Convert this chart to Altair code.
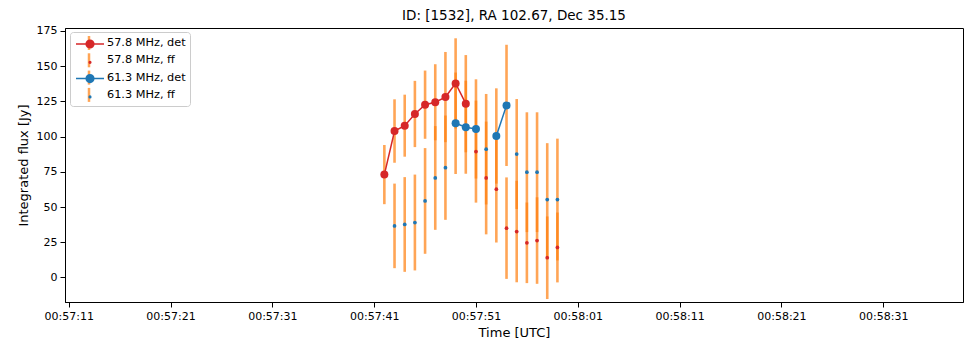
import altair as alt
import pandas as pd

# ---------------- data ----------------
BASE = 57 * 60  # seconds from 00:00:00 to 00:57:00

series_labels = ["57.8 MHz, det", "57.8 MHz, ff", "61.3 MHz, det", "61.3 MHz, ff"]
series_colors = ["#d62728", "#d62728", "#1f77b4", "#1f77b4"]

# seconds after 00:57:00
det578_s = [42, 43, 44, 45, 46, 47, 48, 49, 50]
det578_v = [73.0, 103.9, 107.7, 116.0, 122.6, 124.3, 128.0, 137.7, 123.3]
det578_e = [21.0, 22.5, 22.0, 23.5, 24.2, 27.0, 32.0, 32.0, 34.5]

ff578_s = [51, 52, 53, 54, 55, 56, 57, 58, 59]
ff578_v = [89.3, 70.6, 62.6, 35.0, 32.6, 24.6, 26.2, 14.0, 21.3]
ff578_e = [36.2, 40.0, 37.8, 36.0, 36.0, 28.6, 30.7, 29.3, 24.8]

det613_s = [49, 50, 51, 53, 54]
det613_v = [109.4, 106.6, 105.4, 100.4, 122.1]
det613_e = [36.0, 33.0, 35.2, 33.8, 43.0]
det613_seg = [0, 0, 0, 1, 1]

ff613_s = [43, 44, 45, 46, 47, 48, 52, 55, 56, 57, 58, 59]
ff613_v = [36.6, 37.6, 39.0, 54.3, 70.6, 77.9, 91.0, 87.6, 74.7, 74.7, 55.3, 55.3]
ff613_e = [30.0, 33.6, 34.0, 37.5, 36.8, 37.0, 39.2, 39.0, 42.5, 42.5, 40.0, 43.2]

x_tick_labels = ["00:57:11", "00:57:21", "00:57:31", "00:57:41", "00:57:51",
                 "00:58:01", "00:58:11", "00:58:21", "00:58:31"]
y_ticks = [0, 25, 50, 75, 100, 125, 150, 175]

title_text = "ID: [1532], RA 102.67, Dec 35.15"

# ---------------- table ----------------
def block(s, v, e, label, kind, seg=None):
    seg = seg if seg is not None else [0] * len(s)
    return pd.DataFrame({
        "t": [BASE + a for a in s],
        "v": v,
        "lo": [a - b for a, b in zip(v, e)],
        "hi": [a + b for a, b in zip(v, e)],
        "series": label,
        "kind": kind,
        "seg": seg,
    })

df = pd.concat([
    block(det578_s, det578_v, det578_e, series_labels[0], "det"),
    block(ff578_s, ff578_v, ff578_e, series_labels[1], "ff"),
    block(det613_s, det613_v, det613_e, series_labels[2], "det", det613_seg),
    block(ff613_s, ff613_v, ff613_e, series_labels[3], "ff"),
], ignore_index=True)

def to_sec(lbl):
    h, m, s = (int(p) for p in lbl.split(":"))
    return h * 3600 + m * 60 + s

tick_vals = [to_sec(l) for l in x_tick_labels]

RED, BLUE, ORANGE = "#d62728", "#1f77b4", "#ff7f0e"
FONT = "DejaVu Sans"
Y_DOMAIN = [-17.4, 177.0]

x_enc = alt.X(
    "t:Q",
    scale=alt.Scale(domain=[3430.63, 3518.84], nice=False, zero=False),
    axis=alt.Axis(values=tick_vals, labelExpr="utcFormat(datum.value*1000, '%H:%M:%S')",
                  title="Time [UTC]", titlePadding=5),
)
y_axis = alt.Axis(values=y_ticks, title="Integrated flux [Jy]", titlePadding=6)
y_enc = alt.Y("v:Q", scale=alt.Scale(domain=Y_DOMAIN, nice=False, zero=False), axis=y_axis)
color_enc = alt.Color("series:N", scale=alt.Scale(domain=series_labels, range=series_colors), legend=None)

bars = alt.Chart(df).mark_rule(color=ORANGE, opacity=0.7, strokeWidth=2.6, clip=True).encode(
    x=x_enc,
    y=alt.Y("lo:Q", scale=alt.Scale(domain=Y_DOMAIN, nice=False, zero=False), axis=y_axis),
    y2="hi:Q",
)

lines = alt.Chart(df).transform_filter(alt.datum.kind == "det").mark_line(strokeWidth=1.5).encode(
    x=x_enc, y=y_enc, color=color_enc, detail="seg:N",
)

det_pts = alt.Chart(df).transform_filter(alt.datum.kind == "det").mark_circle(size=64, opacity=1).encode(
    x=x_enc, y=y_enc, color=color_enc,
)

ff_pts = alt.Chart(df).transform_filter(alt.datum.kind == "ff").mark_circle(size=14, opacity=1).encode(
    x=x_enc, y=y_enc, color=color_enc,
)

# ---------------- legend (legend-only layers: their data is filtered empty) ----------------
det_path = ("M-2,0L2,0"
            "M-0.55,0A0.55,0.55,0,1,0,0.55,0A0.55,0.55,0,1,0,-0.55,0"
            "M-0.36,0A0.36,0.36,0,1,0,0.36,0A0.36,0.36,0,1,0,-0.36,0"
            "M-0.16,0A0.16,0.16,0,1,0,0.16,0A0.16,0.16,0,1,0,-0.16,0")
ff_path = "M-0.12,0A0.12,0.12,0,1,0,0.12,0A0.12,0.12,0,1,0,-0.12,0"
bar_path = "M-0.18,-1L0.18,-1L0.18,1L-0.18,1Z"

ROW = 14 + 3.3

def leg(y_off, **kw):
    return alt.Legend(orient="none", legendX=5, legendY=4 + y_off, title=None, padding=4,
                      labelFont=FONT, labelFontSize=11.3, labelColor="black",
                      symbolSize=196, rowPadding=3.3, symbolOffset=8, labelOffset=11, **kw)

def legend_layer(domain, paths, color, legend, filled):
    return alt.Chart(df).transform_filter("false").mark_point(
        filled=filled, color=color, opacity=1, size=196, strokeWidth=1.5).encode(
        x=x_enc, y=y_enc,
        shape=alt.Shape("series:N", scale=alt.Scale(domain=domain, range=paths), legend=legend),
    )

# orange error-bar symbols + labels + frame
leg_orange = legend_layer(series_labels, [bar_path] * 4, ORANGE,
                          leg(0, symbolFillColor=ORANGE, symbolStrokeWidth=0, symbolOpacity=0.7,
                              strokeColor="#cccccc", cornerRadius=3, zindex=0),
                          True)
# coloured line/marker symbols drawn over them (labels left empty)
leg_red = legend_layer(series_labels[:2], [det_path, ff_path], RED,
                       leg(0, symbolStrokeColor=RED, symbolStrokeWidth=1.5,
                           symbolFillColor="transparent", labelExpr="''", zindex=1),
                       False)
leg_blue = legend_layer(series_labels[2:], [det_path, ff_path], BLUE,
                        leg(2 * ROW, symbolStrokeColor=BLUE, symbolStrokeWidth=1.5,
                            symbolFillColor="transparent", labelExpr="''", zindex=1),
                        False)

chart = alt.layer(bars, lines, det_pts, ff_pts, leg_orange, leg_red, leg_blue).resolve_scale(
    shape="independent"
).properties(
    width=898,
    height=274,
    padding={"left": 65, "top": 28, "right": 2, "bottom": 40},
    autosize=alt.AutoSizeParams(type="none"),
    title=alt.Title(title_text),
).configure_view(
    stroke="black", strokeWidth=1,
).configure_axis(
    grid=False, domainColor="black", tickColor="black", tickSize=5, labelPadding=3,
    labelFont=FONT, titleFont=FONT, labelFontSize=11, titleFontSize=13,
    labelColor="black", titleColor="black", titleFontWeight="normal",
).configure_title(
    font=FONT, fontSize=13.5, fontWeight="normal", color="black", anchor="middle", offset=2,
)

chart.save("out.html", embed_options={"renderer": "svg", "actions": False})
